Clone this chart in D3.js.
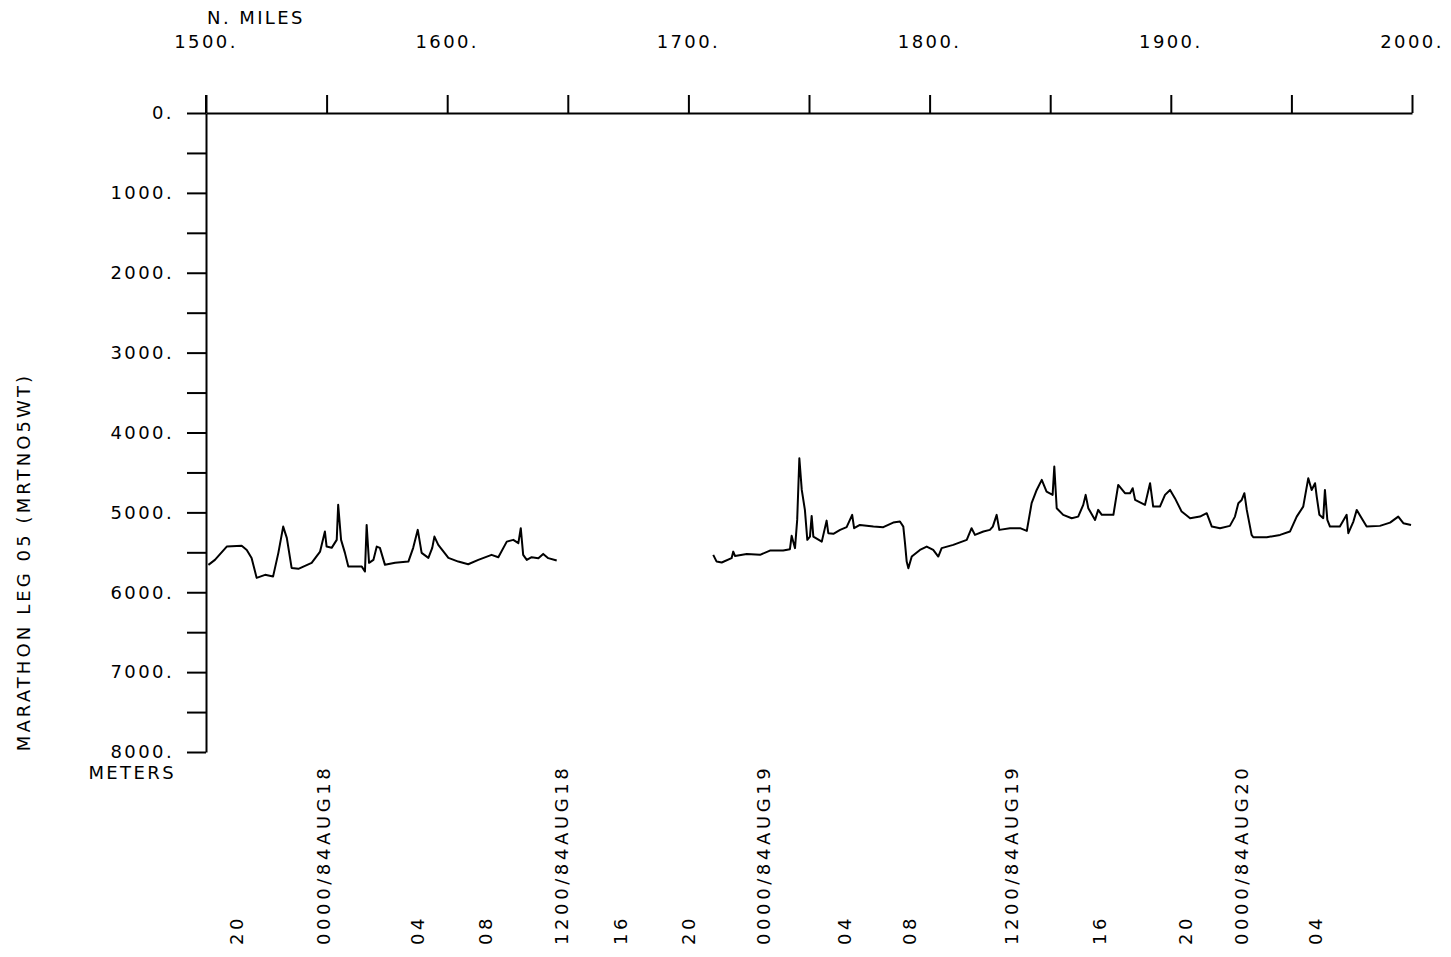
<!DOCTYPE html>
<html>
<head>
<meta charset="utf-8">
<script src="https://cdn.jsdelivr.net/npm/d3@7"></script>
<style>
body { margin: 0; background: #fff; }
text { font-family: "DejaVu Sans", sans-serif; font-size: 18px; letter-spacing: 2.4px; fill: #000; }
.tlab { letter-spacing: 3.6px; }
.ytitle { letter-spacing: 3.1px; }
.domain, .tick line { stroke: #000; stroke-width: 2; }
</style>
</head>
<body>
<div id="chart"></div>
<script>
// distance along track (nautical miles) and depth (meters)
var miles1 = [1501.0,1503.7,1508.6,1514.8,1516.9,1518.9,1521.0,1524.5,1527.8,1530.0,1532.0,1533.5,1535.5,1538.3,1543.8,1547.3,1549.3,1550.0,1552.1,1554.2,1554.8,1556.0,1557.6,1559.0,1564.6,1565.9,1566.6,1567.6,1569.4,1570.8,1572.1,1574.2,1578.4,1583.9,1585.9,1587.8,1589.4,1592.2,1593.8,1594.7,1596.3,1600.5,1604.6,1608.7,1612.9,1618.4,1621.2,1624.7,1627.4,1629.5,1630.5,1631.5,1633.0,1635.0,1637.8,1639.8,1641.9,1645.4];
var depth1 = [5657,5595,5428,5419,5470,5570,5820,5782,5804,5507,5178,5319,5695,5707,5632,5491,5240,5428,5444,5344,4906,5344,5507,5679,5679,5741,5157,5632,5595,5428,5444,5657,5632,5616,5444,5219,5507,5570,5444,5303,5407,5570,5616,5649,5595,5532,5561,5366,5344,5386,5198,5532,5595,5561,5573,5520,5573,5603];

var miles2 = [1710.3,1711.7,1713.8,1717.9,1718.6,1719.3,1724.2,1729.7,1733.8,1739.3,1742.1,1742.8,1744.2,1745.1,1746.0,1747.0,1748.3,1749.3,1750.4,1751.1,1751.8,1755.3,1757.3,1758.0,1760.1,1762.9,1765.6,1767.9,1768.7,1771.1,1776.7,1780.8,1784.9,1787.7,1789.1,1789.8,1790.5,1791.2,1792.6,1796.0,1798.8,1801.5,1803.6,1805.0,1809.8,1815.4,1817.4,1818.8,1822.3,1825.0,1826.2,1827.8,1828.9,1833.3,1837.5,1840.3,
  1842.3,1844.4,1846.5,1848.5,1851.0,1851.7,1852.7,1855.4,1858.9,1861.6,1863.7,1864.7,1865.8,1868.6,1869.9,1871.4,1876.2,1878.2,1881.0,1883.1,1884.2,1885.2,1889.3,1891.4,1892.7,1895.5,1897.6,1899.7,1901.7,1904.5,1908.0,1912.1,1914.9,1917.0,1920.4,1924.5,1926.6,1928.0,1929.4,1930.5,1931.5,1933.5,1934.2,1939.8,1945.3,1949.4,1952.2,1954.9,1957.0,1958.4,1959.8,1960.5,1961.6,1963.2,1963.9,1964.9,1966.0,1970.1,1972.9,1973.6,1975.7,1977.1,1978.7,1981.2,1986.7,1990.9,1994.3,1996.4,1999.6];
var depth2 = [5532,5616,5628,5573,5491,5545,5520,5532,5478,5478,5461,5294,5448,5094,4322,4719,4969,5344,5303,5044,5303,5366,5103,5260,5269,5219,5185,5031,5198,5157,5178,5185,5128,5115,5178,5386,5616,5699,5553,5470,5428,5470,5553,5448,5407,5344,5198,5282,5240,5219,5178,5031,5219,5198,5198,5232,
  4885,4719,4593,4740,4781,4427,4948,5031,5073,5053,4906,4781,4948,5094,4969,5031,5031,4656,4760,4760,4697,4844,4906,4635,4928,4928,4781,4719,4822,4990,5073,5053,5010,5178,5198,5169,5053,4885,4844,4760,4969,5282,5311,5311,5282,5240,5053,4928,4572,4719,4635,4802,5031,5073,4719,5094,5178,5178,5031,5260,5115,4969,5053,5178,5169,5128,5053,5135,5157];

// time marks along the track (every 4 hours)
var timeLabels = ["20","0000/84AUG18","04","08","1200/84AUG18","16","20","0000/84AUG19","04","08","1200/84AUG19","16","20","0000/84AUG20","04"];
var timeMiles = [1512.9,1548.9,1587.9,1616.1,1647.6,1672.1,1700.3,1731.4,1764.9,1791.9,1834.2,1870.6,1906.3,1929.5,1960.2];

var xTicks = d3.range(1500, 2001, 50);
var xLabels = d3.range(1500, 2001, 100);
var yTicks = d3.range(0, 8001, 500);
var yLabels = d3.range(0, 8001, 1000);

var svg = d3.select("#chart").append("svg")
  .attr("width", 1451)
  .attr("height", 957)
  .style("background", "#fff");

var x = d3.scaleLinear().domain([1500, 2000]).range([206, 1412]);
var y = d3.scaleLinear().domain([0, 8000]).range([113, 752]);

// top axis (miles)
svg.append("g")
  .attr("transform", "translate(0," + y(0) + ")")
  .call(d3.axisTop(x).tickValues(xTicks).tickSize(18).tickSizeOuter(0).tickFormat(""));

svg.selectAll(".xlab")
  .data(xLabels)
  .enter().append("text")
  .attr("class", "xlab")
  .attr("x", d => x(d))
  .attr("y", 48)
  .attr("text-anchor", "middle")
  .text(d => d + ".");

svg.append("text")
  .attr("x", 256)
  .attr("y", 24)
  .attr("text-anchor", "middle")
  .text("N. MILES");

// left axis (meters)
svg.append("g")
  .attr("transform", "translate(" + x(1500) + ",0)")
  .call(d3.axisLeft(y).tickValues(yTicks).tickSize(19).tickSizeOuter(0).tickFormat(""));

svg.append("line")
  .attr("x1", x(1500)).attr("x2", x(1500))
  .attr("y1", y(0) - 18).attr("y2", y(0))
  .attr("stroke", "#000").attr("stroke-width", 2);

svg.selectAll(".ylab")
  .data(yLabels)
  .enter().append("text")
  .attr("class", "ylab")
  .attr("x", 174)
  .attr("y", d => y(d))
  .attr("dy", "0.35em")
  .attr("text-anchor", "end")
  .text(d => d + ".");

svg.append("text")
  .attr("x", 176)
  .attr("y", y(8000) + 27)
  .attr("text-anchor", "end")
  .text("METERS");

svg.append("text")
  .attr("class", "ytitle")
  .attr("transform", "translate(24," + 562 + ") rotate(-90)")
  .attr("text-anchor", "middle")
  .attr("dy", "0.35em")
  .text("MARATHON LEG 05 (MRTNO5WT)");

// depth profile, two pieces with a gap
var line = d3.line()
  .x(d => x(d[0]))
  .y(d => y(d[1]));

[[miles1, depth1], [miles2, depth2]].forEach(function(s) {
  svg.append("path")
    .datum(d3.zip(s[0], s[1]))
    .attr("d", line)
    .attr("fill", "none")
    .attr("stroke", "#000")
    .attr("stroke-width", 2)
    .attr("stroke-linejoin", "round");
});

// time labels under the plot
svg.selectAll(".tlab")
  .data(d3.zip(timeMiles, timeLabels))
  .enter().append("text")
  .attr("class", "tlab")
  .attr("transform", d => "translate(" + x(d[0]) + ",945) rotate(-90)")
  .attr("dy", "0.35em")
  .text(d => d[1]);
</script>
</body>
</html>
